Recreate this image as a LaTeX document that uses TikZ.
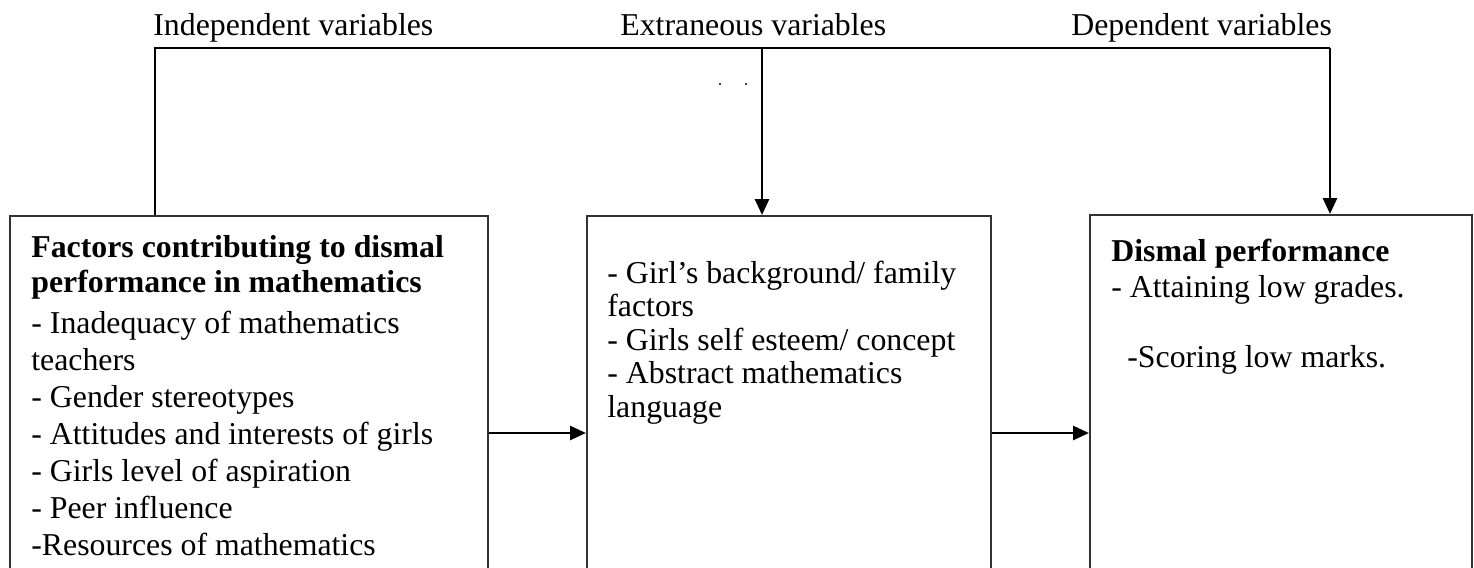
\documentclass[tikz,border=0pt]{standalone}
\usepackage{fontspec}
\setmainfont{Liberation Serif}
\usetikzlibrary{arrows.meta}
\tikzset{
  box/.style={draw=black!80, line width=0.75pt, minimum height=200pt, anchor=north west, inner sep=0pt},
  txt/.style={anchor=base west, inner sep=0pt, font=\fontsize{15.9}{17}\selectfont},
  btxt/.style={txt, font=\fontsize{15.9}{17}\selectfont\bfseries},
  link/.style={line width=1pt, black},
  arrow/.style={line width=1.4pt, black, -{Triangle[length=8pt,width=7pt]}},
}
\begin{document}
\begin{tikzpicture}[x=0.5pt,y=-0.5pt]
\useasboundingbox (0,0) rectangle (1474,568);
\clip (0,0) rectangle (1474,568);
% boxes
\node[box, minimum width=239pt] (b1) at (9,215) {};
\node[box, minimum width=202pt] (b2) at (586,215) {};
\node[box, minimum width=191pt] (b3) at (1089,214) {};
% top labels
\node[txt] (lind) at (153,35) {Independent variables};
\node[txt] (lext) at (620,35) {Extraneous variables};
\node[txt] (ldep) at (1071,35) {Dependent variables};
% connector coordinates
\coordinate (tl) at (155,48);
\coordinate (tm) at (762,48);
\coordinate (tr) at (1330,48);
\draw[link] (b1.north west -| tl) -- (tl) -- (tr);
\draw[arrow] (tm) -- (b2.north west -| tm);
\draw[arrow] (tr) -- (b3.north west -| tr);
\coordinate (h1) at (0,433);
\draw[arrow] (b1.east |- h1) -- (b2.west |- h1);
\draw[arrow] (b2.east |- h1) -- (b3.west |- h1);
% small dots
\fill[black!75] (719,83) rectangle (721,85);
\fill[black!75] (745,83) rectangle (747,85);
% left box text
\node[btxt] (a1) at (31,257) {Factors contributing to dismal};
\node[btxt] (a2) at (31,292) {performance in mathematics};
\node[txt] (a3) at (31,333) {- Inadequacy of mathematics};
\node[txt] (a4) at (31,370) {teachers};
\node[txt] (a5) at (31,407) {- Gender stereotypes};
\node[txt] (a6) at (31,444) {- Attitudes and interests of girls};
\node[txt] (a7) at (31,481) {- Girls level of aspiration};
\node[txt] (a8) at (31,518) {- Peer influence};
\node[txt] (a9) at (31,555) {-Resources of mathematics};
% middle box text
\node[txt] (m1) at (607,283) {- Girl’s background/ family};
\node[txt] (m2) at (607,316.5) {factors};
\node[txt] (m3) at (607,350) {- Girls self esteem/ concept};
\node[txt] (m4) at (607,383.5) {- Abstract mathematics};
\node[txt] (m5) at (607,417) {language};
% right box text
\node[btxt] (r1) at (1111,261) {Dismal performance};
\node[txt] (r2) at (1111,297) {- Attaining low grades.};
\node[txt] (r3) at (1127,367) {-Scoring low marks.};
\end{tikzpicture}
\end{document}
